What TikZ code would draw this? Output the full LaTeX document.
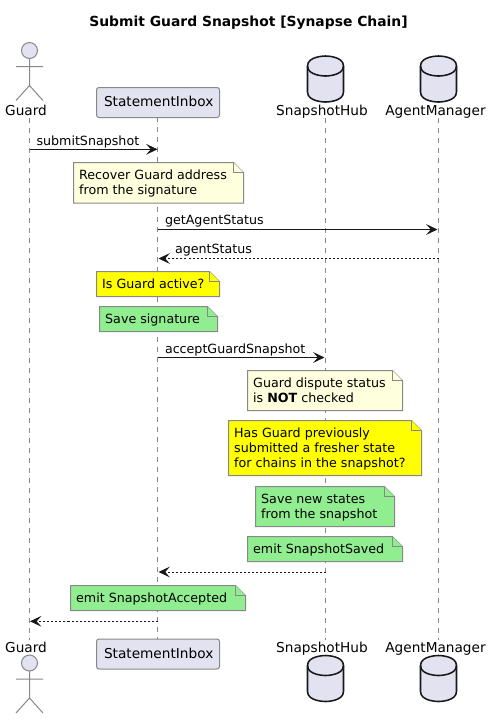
\documentclass[tikz,border=0pt]{standalone}
\usepackage{fontspec}
\setmainfont{DejaVu Sans}
\usetikzlibrary{arrows.meta}
\definecolor{partfill}{HTML}{E2E2F0}
\definecolor{notefill}{HTML}{FEFFDD}
\definecolor{notegreen}{HTML}{90EE90}
\definecolor{noteyellow}{HTML}{FFFF00}
\definecolor{edgegray}{HTML}{888888}
\definecolor{ink}{HTML}{181818}
\tikzset{
  lab/.style={inner sep=0pt,outer sep=0pt,font=\fontsize{10.25pt}{11.5pt}\selectfont,text=black},
  notetext/.style={lab,align=left,anchor=north west,font=\fontsize{9.5pt}{11.5pt}\selectfont},
  msgtext/.style={lab,anchor=base west,font=\fontsize{9.5pt}{11.5pt}\selectfont},
  actorline/.style={draw=edgegray,line width=0.75pt,fill=partfill},
  lifeline/.style={draw=edgegray,line width=0.75pt,dash pattern=on 3.75pt off 3.75pt},
  call/.style={draw=ink,line width=0.75pt,-{Stealth[length=8.5pt,width=8pt,inset=3.5pt]}},
  reply/.style={call,dash pattern=on 1.5pt off 1.5pt},
  partbox/.style={draw=edgegray,fill=partfill,line width=0.75pt,rounded corners=1.9pt,lab,minimum width=92.25pt,minimum height=22.5pt,text height=8pt,text depth=2pt}
}
% name, x1, y1, x2, y2, colour, text
\newcommand{\notebox}[7]{%
  \draw[draw=edgegray,line width=0.75pt,fill=#6] (#2,#3) -- (#4-10,#3) -- (#4,#3+10) -- (#4,#5) -- (#2,#5) -- cycle;
  \draw[draw=edgegray,line width=0.75pt,fill=#6] (#4-10,#3) -- (#4-10,#3+10) -- (#4,#3+10);
  \node[notetext] (#1) at (#2+5.7,#3+7.2) {#7};
}
\newcommand{\dbshape}[2]{%
  \draw[draw=ink,line width=1.15pt,fill=partfill]
    (#1,#2+10) .. controls (#1,#2) and (#1+18,#2) .. (#1+18,#2)
    .. controls (#1+18,#2) and (#1+36,#2) .. (#1+36,#2+10)
    -- (#1+36,#2+36) .. controls (#1+36,#2+46) and (#1+18,#2+46) .. (#1+18,#2+46)
    .. controls (#1+18,#2+46) and (#1,#2+46) .. (#1,#2+36) -- cycle;
  \draw[draw=ink,line width=1.15pt]
    (#1,#2+10) .. controls (#1,#2+20) and (#1+18,#2+20) .. (#1+18,#2+20)
    .. controls (#1+18,#2+20) and (#1+36,#2+20) .. (#1+36,#2+10);
}
\newcommand{\actorshape}[2]{%
  \draw[actorline] (#1,#2) circle (8);
  \draw[actorline,fill=none] (#1,#2+8) -- (#1,#2+35) (#1-13.5,#2+16) -- (#1+13.5,#2+16)
    (#1-13.5,#2+50) -- (#1,#2+35) -- (#1+13.5,#2+50);
}
\begin{document}
\begin{tikzpicture}[x=0.75pt,y=-0.75pt]
\useasboundingbox (0,0) rectangle (492,719);
\fill[white] (0,0) rectangle (492,719);

\node[lab,font=\fontsize{10.4pt}{12pt}\bfseries\selectfont] (title) at (248.5,23) {Submit Guard Snapshot [Synapse Chain]};

% participant labels and boxes (top)
\node[lab,anchor=base] (guardT) at (26,115) {Guard};
\node[partbox] (inboxT) at (158,102.5) {\kern1pt StatementInbox};
\node[lab,anchor=base] (hubT) at (322,115) {SnapshotHub};
\node[lab,anchor=base] (mgrT) at (435.5,115) {AgentManager};
% participant labels and boxes (bottom)
\node[lab,anchor=base] (guardB) at (26,652) {Guard};
\node[partbox] (inboxB) at (158,654) {\kern1pt StatementInbox};
\node[lab,anchor=base] (hubB) at (322,652) {SnapshotHub};
\node[lab,anchor=base] (mgrB) at (435.5,652) {AgentManager};

% lifeline ends
\coordinate (gTop) at (29.5,118); \coordinate (gBot) at (29.5,640);
\coordinate (hTop) at (325.5,118); \coordinate (hBot) at (325.5,640);
\coordinate (mTop) at (438.5,118); \coordinate (mBot) at (438.5,640);
\coordinate (iTop) at (157.5,117); \coordinate (iBot) at (157.5,639);
\draw[lifeline] (gTop) -- (gBot);
\draw[lifeline] (iTop) -- (iBot);
\draw[lifeline] (hTop) -- (hBot);
\draw[lifeline] (mTop) -- (mBot);

% actors and databases
\actorshape{29.5}{50.5}
\actorshape{29.5}{663}
\dbshape{307.5}{56}
\dbshape{420.5}{56}
\dbshape{307.5}{655.5}
\dbshape{420.5}{655.5}

% messages
\coordinate (g1) at (29.5,149.3); \coordinate (i1) at (157.5,149.3);
\coordinate (i2) at (157.5,229.5); \coordinate (m2) at (437.5,229.5);
\coordinate (m3) at (438.5,258.5); \coordinate (i3) at (158.5,258.5);
\coordinate (i4) at (157.5,357.5); \coordinate (h4) at (324.5,357.5);
\coordinate (h5) at (325.5,572); \coordinate (i5) at (158.5,572);
\coordinate (i6) at (157.5,621.3); \coordinate (g6) at (30,621.3);
\draw[call] (g1) -- (i1);
\draw[call] (i2) -- (m2);
\draw[reply] (m3) -- (i3);
\draw[call] (i4) -- (h4);
\draw[reply] (h5) -- (i5);
\draw[reply] (i6) -- (g6);
\node[msgtext] (t1) at (36.5,145) {submitSnapshot};
\node[msgtext] (t2) at (165,224) {getAgentStatus};
\node[msgtext] (t3) at (175,253) {agentStatus};
\node[msgtext] (t4) at (165,353) {acceptGuardSnapshot};

% notes
\notebox{n1}{73.5}{162.5}{243.5}{203}{notefill}{Recover Guard address\\from the signature}
\notebox{n2}{96.5}{271.5}{219.5}{296.5}{noteyellow}{Is Guard active?}
\notebox{n3}{99.5}{306.5}{217.5}{331.5}{notegreen}{Save signature}
\notebox{n4}{247.5}{370.5}{402.5}{410.5}{notefill}{Guard dispute status\\is \textbf{NOT} checked}
\notebox{n5}{228.5}{420.5}{421.5}{475.5}{noteyellow}{Has Guard previously\\submitted a fresher state\\for chains in the snapshot?}
\notebox{n6}{255.5}{486.5}{394.5}{526.5}{notegreen}{Save new states\\from the snapshot}
\notebox{n7}{247.5}{536.5}{402.5}{561.5}{notegreen}{emit SnapshotSaved}
\notebox{n8}{70.5}{585.5}{245.5}{610.5}{notegreen}{emit SnapshotAccepted}
\end{tikzpicture}
\end{document}
